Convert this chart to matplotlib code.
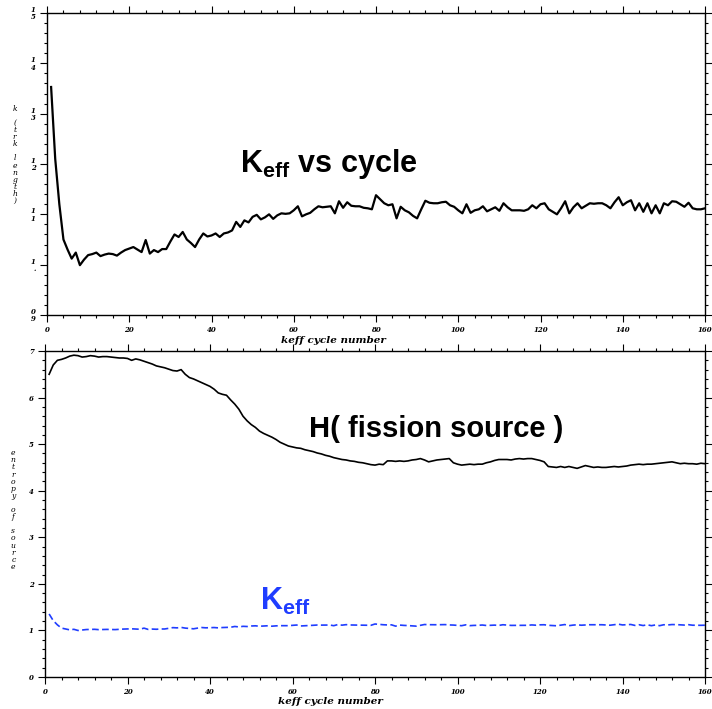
import matplotlib
matplotlib.use("Agg")
import matplotlib.pyplot as plt
import numpy as np
from matplotlib.ticker import MultipleLocator, FixedLocator, FixedFormatter

plt.rcParams['mathtext.fontset'] = 'custom'
plt.rcParams['mathtext.rm'] = 'Liberation Sans'
plt.rcParams['mathtext.bf'] = 'Liberation Sans:bold'

# keff per cycle (cycles 1..160)
keff = [
    1.353, 1.210, 1.120, 1.050, 1.030, 1.012, 1.024, 0.999, 1.010, 1.019,
    1.021, 1.024, 1.017, 1.020, 1.022, 1.021, 1.018, 1.024, 1.029, 1.032,
    1.035, 1.030, 1.025, 1.049, 1.022, 1.029, 1.025, 1.031, 1.031, 1.046,
    1.060, 1.055, 1.065, 1.050, 1.043, 1.035, 1.050, 1.062, 1.056, 1.058,
    1.062, 1.055, 1.062, 1.064, 1.068, 1.085, 1.075, 1.088, 1.084, 1.095,
    1.099, 1.090, 1.094, 1.100, 1.091, 1.098, 1.102, 1.101, 1.102, 1.108,
    1.116, 1.096, 1.100, 1.103, 1.110, 1.116, 1.114, 1.115, 1.116, 1.102,
    1.126, 1.113, 1.124, 1.117, 1.116, 1.116, 1.113, 1.112, 1.110, 1.138,
    1.130, 1.122, 1.118, 1.120, 1.092, 1.115, 1.108, 1.104, 1.097, 1.092,
    1.110, 1.127, 1.123, 1.122, 1.122, 1.124, 1.125, 1.118, 1.115, 1.108,
    1.102, 1.120, 1.103, 1.108, 1.110, 1.116, 1.106, 1.110, 1.114, 1.107,
    1.122, 1.114, 1.108, 1.108, 1.108, 1.107, 1.110, 1.118, 1.112, 1.120,
    1.122, 1.110, 1.105, 1.100, 1.112, 1.126, 1.102, 1.114, 1.122, 1.112,
    1.117, 1.122, 1.121, 1.122, 1.122, 1.118, 1.112, 1.124, 1.134, 1.118,
    1.124, 1.128, 1.108, 1.122, 1.105, 1.122, 1.102, 1.118, 1.102, 1.122,
    1.118, 1.126, 1.125, 1.120, 1.115, 1.123, 1.112, 1.110, 1.110, 1.112,
]

# Shannon entropy of the fission source per cycle
entropy = [
    6.50, 6.70, 6.80, 6.82, 6.85, 6.89, 6.91, 6.90, 6.87, 6.88,
    6.90, 6.89, 6.87, 6.88, 6.88, 6.87, 6.86, 6.85, 6.85, 6.84,
    6.80, 6.83, 6.81, 6.78, 6.75, 6.72, 6.68, 6.66, 6.64, 6.61,
    6.58, 6.57, 6.60, 6.50, 6.43, 6.40, 6.36, 6.32, 6.28, 6.24,
    6.18, 6.10, 6.07, 6.05, 5.95, 5.86, 5.75, 5.60, 5.50, 5.42,
    5.36, 5.28, 5.23, 5.19, 5.15, 5.10, 5.04, 5.00, 4.96, 4.94,
    4.92, 4.91, 4.88, 4.86, 4.84, 4.81, 4.79, 4.76, 4.74, 4.71,
    4.69, 4.67, 4.66, 4.64, 4.63, 4.61, 4.60, 4.58, 4.56, 4.55,
    4.57, 4.56, 4.64, 4.64, 4.63, 4.64, 4.63, 4.64, 4.66, 4.67,
    4.69, 4.66, 4.62, 4.64, 4.66, 4.67, 4.68, 4.69, 4.60, 4.57,
    4.55, 4.56, 4.57, 4.56, 4.57, 4.57, 4.60, 4.62, 4.65, 4.67,
    4.67, 4.67, 4.66, 4.68, 4.69, 4.68, 4.69, 4.69, 4.67, 4.65,
    4.62, 4.52, 4.51, 4.50, 4.52, 4.50, 4.52, 4.50, 4.48, 4.51,
    4.54, 4.52, 4.50, 4.51, 4.50, 4.50, 4.51, 4.52, 4.51, 4.52,
    4.53, 4.55, 4.56, 4.57, 4.56, 4.57, 4.57, 4.58, 4.59, 4.60,
    4.61, 4.62, 4.60, 4.58, 4.59, 4.58, 4.58, 4.57, 4.59, 4.58,
]

cycles = np.arange(1, len(keff) + 1)

top_yticks = [0.9, 1.0, 1.1, 1.2, 1.3, 1.4, 1.5]
top_ylabels = ['0\n9', '1\n.', '1\n1', '1\n2', '1\n3', '1\n4', '1\n5']
bot_yticks = [0, 1, 2, 3, 4, 5, 6, 7]
xticks = [0, 20, 40, 60, 80, 100, 120, 140, 160]

tick_font = dict(family='DejaVu Serif', style='italic', weight='bold', size=5)
label_font = dict(family='DejaVu Serif', style='italic', weight='bold', size=7.5)


def stacked(s):
    return '\n'.join(s)


def style_axes(ax, xminor, yminor):
    ax.xaxis.set_major_locator(FixedLocator(xticks))
    ax.xaxis.set_minor_locator(MultipleLocator(xminor))
    ax.yaxis.set_minor_locator(MultipleLocator(yminor))
    ax.tick_params(which='both', direction='out', top=True, right=True,
                   width=0.8, color='black')
    ax.tick_params(which='major', length=5)
    ax.tick_params(which='minor', length=2.5)
    ax.tick_params(axis='x', which='major', pad=3)
    ax.tick_params(axis='y', which='major', pad=3)
    for sp in ax.spines.values():
        sp.set_linewidth(1.0)
    for lab in ax.get_xticklabels():
        lab.set(**tick_font)
    for lab in ax.get_yticklabels():
        lab.set(**tick_font)


fig = plt.figure(figsize=(7.12, 7.09), dpi=100)

# top: keff vs cycle
ax1 = fig.add_axes([47 / 712, 1 - 315 / 709, 658 / 712, 302 / 709])
ax1.plot(cycles, keff, color='black', lw=1.6)
ax1.set_xlim(0, 160)
ax1.set_ylim(0.9, 1.5)
ax1.yaxis.set_major_locator(FixedLocator(top_yticks))
ax1.yaxis.set_major_formatter(FixedFormatter(top_ylabels))
style_axes(ax1, 4, 0.02)
for lab in ax1.get_yticklabels():
    lab.set_linespacing(0.9)
ax1.set_xlabel('keff cycle number', **label_font)
ax1.xaxis.set_label_coords((333 - 47) / 658, -0.07)
ax1.text(-0.049, 0.53, stacked('k (trk length)'), transform=ax1.transAxes,
         ha='center', va='center', linespacing=0.85,
         family='DejaVu Serif', style='italic', size=5.5)
ax1.text(47, 1.184, r'$\mathbf{K}_{\mathbf{eff}}$ vs cycle', fontsize=22,
         family='Liberation Sans', weight='bold', ha='left', va='baseline')

# bottom: entropy and keff vs cycle
ax2 = fig.add_axes([45 / 712, 1 - 677 / 709, 660 / 712, 326 / 709])
ax2.plot(cycles, entropy, color='black', lw=1.2)
ax2.plot(cycles, keff, color='#1f3dff', lw=1.2, ls=(0, (4, 2)))
ax2.set_xlim(0, 160)
ax2.set_ylim(0, 7)
ax2.yaxis.set_major_locator(FixedLocator(bot_yticks))
style_axes(ax2, 4, 0.2)
ax2.set_xlabel('keff cycle number', **label_font)
ax2.xaxis.set_label_coords((330 - 45) / 660, -0.061)
ax2.text(-0.048, 0.512, stacked('entropy of source'), transform=ax2.transAxes,
         ha='center', va='center', linespacing=0.85,
         family='DejaVu Serif', style='italic', size=5.5)
ax2.text(64, 5.15, 'H( fission source )', fontsize=21,
         family='Liberation Sans', weight='bold', ha='left', va='baseline')
ax2.text(52, 1.44, r'$\mathbf{K}_{\mathbf{eff}}$', fontsize=22, color='#1f3dff',
         family='Liberation Sans', weight='bold', ha='left', va='baseline')

fig.savefig('out.png', dpi=100)
